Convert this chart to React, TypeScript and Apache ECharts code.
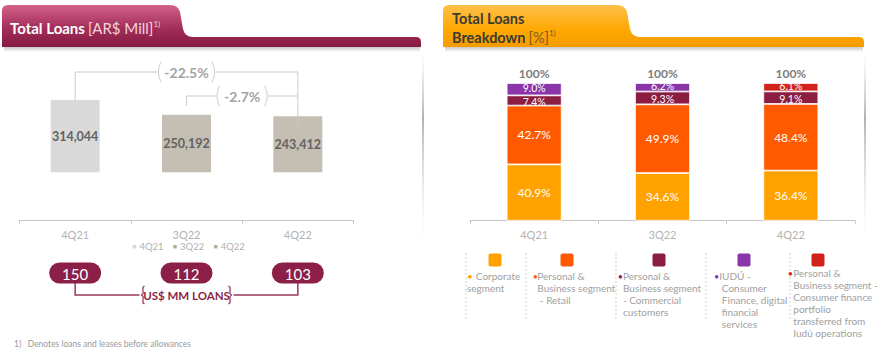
import React, { useEffect, useRef } from 'react';
import * as echarts from 'echarts';

// ---------- data ----------
const quarters = ['4Q21', '3Q22', '4Q22'];
const totalLoans = [314044, 250192, 243412];
const usdLoans = [150, 112, 103];
const loanBarColors = ['#d9d9d9', '#c4beb3', '#c4beb3'];

const segmentNames = [
  'Corporate segment',
  'Personal & Business segment - Retail',
  'Personal & Business segment - Commercial customers',
  'IUDÚ - Consumer Finance, digital financial services',
  'Personal & Business segment - Consumer finance portfolio transferred from Iudú operations',
];
const corporate = [40.9, 34.6, 36.4];
const retail = [42.7, 49.9, 48.4];
const commercial = [7.4, 9.3, 9.1];
const iudu = [9.0, 6.2, null];
const transferred = [null, null, 6.1];
const segmentColors = ['#ffa200', '#ff5a00', '#8b1d41', '#8a35a8', '#d2231b'];
const legendLines = [
  ['Corporate', 'segment'],
  ['Personal &', 'Business segment', ' - Retail'],
  ['Personal &', 'Business segment', '- Commercial', 'customers'],
  ['IUDÚ -', ' Consumer', ' Finance, digital', ' financial', ' services'],
  ['Personal &', 'Business segment -', 'Consumer finance', 'portfolio', 'transferred from', 'Iudú operations'],
];

// visual baseline offset of the truncated left value axis
const LOAN_AXIS_OFFSET = 210000;
const FONT = 'Lato, "Open Sans", sans-serif';

const leftTab = 'M2,11 Q2,5 8,5 L170,5 Q178,5 180,12 L183,29 Q185,37 193,37 L416,37 Q421,37 421,42 L421,47 L2,47 Z';
const rightTab = 'M443,11 Q443,5 449,5 L617,5 Q625,5 627,12 L630,29 Q632,37 640,37 L859,37 Q864,37 864,42 L864,47 L443,47 Z';

let registered = false;
function registerShapes() {
  if (registered) return;
  echarts.graphic.registerShape('tabLeft', echarts.graphic.extendPath(leftTab, {}));
  echarts.graphic.registerShape('tabRight', echarts.graphic.extendPath(rightTab, {}));
  registered = true;
}

export default function App() {
  const ref = useRef<HTMLDivElement>(null);

  useEffect(() => {
    if (!ref.current) return;
    registerShapes();
    const chart = echarts.init(ref.current, undefined, { renderer: 'svg' });

    const segData = [corporate, retail, commercial, iudu, transferred];
    const totals = quarters.map((_, i) => segData.reduce((s, arr) => s + (arr[i] ?? 0), 0));

    const catLabel = { color: '#b3b3b3', fontSize: 11, fontFamily: FONT, margin: 8 };
    const axisLine = { lineStyle: { color: '#c6c6c6', width: 1 } };
    const segLabelOffset = [[0, 0], [0, 0], [0, 1.2], [0, -1.6], [0, -1.6]];

    chart.setOption({
      animation: false,
      textStyle: { fontFamily: FONT },
      grid: [
        { left: 19.5, width: 334, top: 82.5, bottom: 134.3, containLabel: false },
        { left: 470, width: 385, top: 83, bottom: 134.3, containLabel: false },
      ],
      xAxis: [
        { type: 'category', gridIndex: 0, data: quarters, axisLine, axisTick: { show: true, length: 3, lineStyle: { color: '#c6c6c6' } }, axisLabel: catLabel },
        { type: 'category', gridIndex: 1, data: quarters, axisLine, axisTick: { show: true, length: 3, lineStyle: { color: '#c6c6c6' } }, axisLabel: catLabel },
      ],
      yAxis: [
        { type: 'value', gridIndex: 0, min: 0, max: 600000, show: false, splitLine: { show: false } },
        { type: 'value', gridIndex: 1, min: 0, max: 100, show: false, splitLine: { show: false } },
      ],
      series: [
        {
          type: 'bar', name: 'axis offset', stack: 'loans', xAxisIndex: 0, yAxisIndex: 0, barWidth: 49, silent: true,
          data: quarters.map(() => LOAN_AXIS_OFFSET), itemStyle: { color: 'rgba(0,0,0,0)' },
        },
        {
          type: 'bar', name: 'Total Loans', stack: 'loans', xAxisIndex: 0, yAxisIndex: 0, barWidth: 49,
          data: totalLoans.map((v, i) => ({ value: v, itemStyle: { color: loanBarColors[i] } })),
          label: {
            show: true, position: 'inside', color: '#626262', fontSize: 12.5, fontWeight: 'bold', fontFamily: FONT,
            formatter: (p: any) => Number(p.value).toLocaleString('en-US'),
          },
        },
        ...segData.map((arr, k) => ({
          type: 'bar', name: segmentNames[k], stack: 'mix', xAxisIndex: 1, yAxisIndex: 1, barWidth: 55,
          data: arr,
          itemStyle: { color: segmentColors[k], borderColor: '#ffffff', borderWidth: 0.8 },
          label: {
            show: true, position: 'inside', color: '#ffffff', fontSize: k >= 2 ? 10.5 : 12, fontFamily: FONT,
            offset: segLabelOffset[k],
            formatter: (p: any) => (p.value == null ? '' : Number(p.value).toFixed(1) + '%'),
          },
        })),
        {
          type: 'bar', name: 'total', stack: 'mix', xAxisIndex: 1, yAxisIndex: 1, barWidth: 55, silent: true,
          data: quarters.map(() => 0),
          label: {
            show: true, position: 'top', distance: 4, color: '#7c7c7c', fontSize: 12, fontWeight: 'bold', fontFamily: FONT,
            formatter: (p: any) => Math.round(totals[p.dataIndex]) + '%',
          },
        },
      ],
    });

    const px = (g: number, i: number, v: number) => chart.convertToPixel({ gridIndex: g } as any, [i, v]) as number[];
    const leftTops = totalLoans.map((v, i) => px(0, i, LOAN_AXIS_OFFSET + v));
    const leftX = leftTops.map((p) => p[0]);

    const chg1 = ((totalLoans[2] / totalLoans[0] - 1) * 100).toFixed(1) + '%';
    const chg2 = ((totalLoans[2] / totalLoans[1] - 1) * 100).toFixed(1) + '%';

    const gray = '#c9c9c9';
    const maroon = '#8c1f47';
    const g: any[] = [];

    // panel edge shadows
    const shadowGrad = new echarts.graphic.LinearGradient(0, 0, 0, 1, [
      { offset: 0, color: 'rgba(200,200,200,0)' },
      { offset: 0.35, color: 'rgba(170,170,170,0.9)' },
      { offset: 1, color: 'rgba(230,230,230,0)' },
    ]);
    g.push({ type: 'rect', shape: { x: 422, y: 52, width: 2, height: 190 }, style: { fill: shadowGrad }, silent: true });
    g.push({ type: 'rect', shape: { x: 864, y: 52, width: 2, height: 190 }, style: { fill: shadowGrad }, silent: true });

    // header tabs
    g.push({
      type: 'rect', shape: { x: 4, y: 47, width: 416, height: 5 },
      style: { fill: new echarts.graphic.LinearGradient(0, 0, 0, 1, [{ offset: 0, color: '#c8c8c8' }, { offset: 1, color: '#ffffff' }]) },
    });
    g.push({
      type: 'rect', shape: { x: 445, y: 47, width: 418, height: 5 },
      style: { fill: new echarts.graphic.LinearGradient(0, 0, 0, 1, [{ offset: 0, color: '#c8c8c8' }, { offset: 1, color: '#ffffff' }]) },
    });
    g.push({
      type: 'tabLeft',
      style: {
        fill: new echarts.graphic.LinearGradient(0, 0, 0, 1, [
          { offset: 0, color: '#d46188' }, { offset: 0.55, color: '#a22e5a' }, { offset: 1, color: '#851a42' },
        ]),
      },
    });
    g.push({
      type: 'tabRight',
      style: {
        fill: new echarts.graphic.LinearGradient(0, 0, 0, 1, [
          { offset: 0, color: '#ffc04a' }, { offset: 0.6, color: '#ffa800' }, { offset: 1, color: '#f49c00' },
        ]),
      },
    });
    g.push({
      type: 'text', x: 10, y: 28,
      style: {
        text: '{b|Total Loans} {n|[AR$ Mill]}{s|1)}', verticalAlign: 'middle', fontFamily: FONT,
        rich: {
          b: { fontSize: 15, fontWeight: 'bold', fill: '#ffffff', fontFamily: FONT },
          n: { fontSize: 15, fill: '#f3d5df', fontFamily: FONT },
          s: { fontSize: 8, fill: '#f3d5df', fontFamily: FONT, verticalAlign: 'top', padding: [0, 0, 8, 0] },
        },
      },
    });
    g.push({
      type: 'text', x: 452, y: 18,
      style: { text: 'Total Loans', verticalAlign: 'middle', fontSize: 14.5, fontWeight: 'bold', fill: '#3d3a33', fontFamily: FONT },
    });
    g.push({
      type: 'text', x: 452, y: 37,
      style: {
        text: '{b|Breakdown} {n|[%]}{s|1)}', verticalAlign: 'middle', fontFamily: FONT,
        rich: {
          b: { fontSize: 14.5, fontWeight: 'bold', fill: '#3d3a33', fontFamily: FONT },
          n: { fontSize: 14.5, fill: '#7a5a20', fontFamily: FONT },
          s: { fontSize: 8, fill: '#7a5a20', fontFamily: FONT, verticalAlign: 'top', padding: [0, 0, 8, 0] },
        },
      },
    });

    // change brackets (left chart)
    const y1 = 72;
    const y2 = 96;
    g.push({
      type: 'polyline', z: 10,
      shape: { points: [[leftX[0], leftTops[0][1]], [leftX[0], y1], [leftX[2], y1], [leftX[2], leftTops[2][1] + 13]] },
      style: { stroke: gray, lineWidth: 1, fill: 'none' },
    });
    g.push({
      type: 'polyline', z: 10,
      shape: { points: [[leftX[1], leftTops[1][1] - 9], [leftX[1], y2], [leftX[2], y2]] },
      style: { stroke: gray, lineWidth: 1, fill: 'none' },
    });
    const c1 = (leftX[0] + leftX[2]) / 2;
    const c2 = (leftX[1] + leftX[2]) / 2;
    const bracketArcs = (cx: number, cy: number, half: number, color: string, width: number) => {
      const r = 22;
      const a = Math.PI / 6.5;
      g.push({
        type: 'arc', z: 12,
        shape: { cx: cx - half + r, cy, r, startAngle: Math.PI - a, endAngle: Math.PI + a, clockwise: true },
        style: { stroke: color, lineWidth: width, fill: 'none' },
      });
      g.push({
        type: 'arc', z: 12,
        shape: { cx: cx + half - r, cy, r, startAngle: -a, endAngle: a, clockwise: true },
        style: { stroke: color, lineWidth: width, fill: 'none' },
      });
    };
    const changeLabel = (cx: number, cy: number, txt: string, half: number) => {
      g.push({ type: 'rect', z: 11, shape: { x: cx - half, y: cy - 9, width: half * 2, height: 18 }, style: { fill: '#ffffff' } });
      g.push({ type: 'text', z: 12, x: cx, y: cy, style: { text: txt, align: 'center', verticalAlign: 'middle', fontSize: 14, fontWeight: 'bold', fill: '#a3a3a3', fontFamily: FONT } });
      bracketArcs(cx, cy, half - 1, '#cfcfcf', 1);
    };
    changeLabel(c1, y1, chg1, 29);
    changeLabel(c2, y2, chg2, 26);

    // mini legend under left axis
    g.push({
      type: 'text', x: (leftX[0] + leftX[2]) / 2 + 2, y: 246,
      style: {
        text: quarters.map((q, i) => `{s${i}|■} {t|${q}}`).join('   '),
        align: 'center', verticalAlign: 'middle', fontFamily: FONT,
        rich: {
          s0: { fontSize: 7, fill: loanBarColors[0], fontFamily: FONT },
          s1: { fontSize: 7, fill: '#b3ab9f', fontFamily: FONT },
          s2: { fontSize: 7, fill: '#b3ab9f', fontFamily: FONT },
          t: { fontSize: 9.5, fill: '#b0b0b0', fontFamily: FONT },
        },
      },
    });

    // US$ pills
    const pillY = 273;
    const braceY = 295;
    g.push({
      type: 'polyline',
      shape: { points: [[leftX[0], pillY], [leftX[0], braceY], [leftX[2], braceY], [leftX[2], pillY]] },
      style: { stroke: '#9a3a5e', lineWidth: 1.5, fill: 'none' },
    });
    usdLoans.forEach((v, i) => {
      g.push({ type: 'rect', z: 5, shape: { x: leftX[i] - 26, y: pillY - 10.5, width: 52, height: 21, r: 10.5 }, style: { fill: maroon } });
      g.push({ type: 'text', z: 6, x: leftX[i], y: pillY + 0.5, style: { text: String(v), align: 'center', verticalAlign: 'middle', fontSize: 15, fill: '#ffffff', fontFamily: FONT } });
    });
    g.push({ type: 'rect', z: 5, shape: { x: leftX[1] - 47, y: braceY - 10, width: 94, height: 20 }, style: { fill: '#ffffff' } });
    g.push({ type: 'text', z: 6, x: leftX[1], y: braceY + 0.5, style: { text: 'US$ MM LOANS', align: 'center', verticalAlign: 'middle', fontSize: 11.5, fontWeight: 'bold', fill: maroon, fontFamily: FONT } });
    // curly braces
    const braceL = (x: number, dir: number) => {
      const h = 9;
      const w = 3 * dir;
      g.push({
        type: 'polyline', z: 6,
        shape: { points: [[x + w, braceY - h], [x + w / 2, braceY - h + 1.5], [x + w / 2, braceY - 1.5], [x, braceY], [x + w / 2, braceY + 1.5], [x + w / 2, braceY + h - 1.5], [x + w, braceY + h]], smooth: 0.3 },
        style: { stroke: '#9a3a5e', lineWidth: 1.3, fill: 'none' },
      });
    };
    braceL(leftX[1] - 45, 1);
    braceL(leftX[1] + 45, -1);

    // footnote
    g.push({ type: 'text', x: 14, y: 344, style: { text: '1)   Denotes loans and leases before allowances', verticalAlign: 'middle', fontSize: 8.5, fill: '#9a9a9a', fontFamily: FONT } });

    // right legend
    const sepX = [466, 526, 616, 706, 790];
    const iconX = [495, 567, 659, 744, 818];
    const bulletX = [467, 532.7, 617.7, 714, 787.7];
    const textX = [467, 537.3, 623, 719.3, 793.3];
    const textY = [276, 276, 276, 276, 273.3];
    sepX.forEach((x) => {
      g.push({ type: 'line', shape: { x1: x, y1: 253, x2: x, y2: 320 }, style: { stroke: '#cfcfcf', lineWidth: 1, lineDash: [2, 2] } });
    });
    const legendText = '#a0a0a0';
    segmentNames.forEach((_, k) => {
      g.push({ type: 'rect', shape: { x: iconX[k] - 6.5, y: 253.5, width: 13, height: 13, r: 2 }, style: { fill: segmentColors[k] } });
      const lines = legendLines[k];
      if (k === 0) {
        g.push({
          type: 'text', x: bulletX[0], y: textY[0] - 6,
          style: {
            text: `{b|•} {t|${lines[0]}}\n{t|${lines[1]}}`, fontFamily: FONT,
            rich: { b: { fill: segmentColors[0], fontSize: 10, lineHeight: 12, fontFamily: FONT }, t: { fill: legendText, fontSize: 10, lineHeight: 12, fontFamily: FONT } },
          },
        });
      } else {
        g.push({ type: 'text', x: bulletX[k], y: textY[k], style: { text: '•', verticalAlign: 'middle', fontSize: 9, fill: segmentColors[k], fontFamily: FONT } });
        g.push({ type: 'text', x: textX[k], y: textY[k] - 6, style: { text: lines.join('\n'), fontSize: 10, lineHeight: 12, fill: legendText, fontFamily: FONT } });
      }
    });

    chart.setOption({ graphic: { elements: g } });

    return () => chart.dispose();
  }, []);

  return <div ref={ref} style={{ position: 'fixed', left: 0, top: 0, width: 886, height: 355, background: '#ffffff' }} />;
}
